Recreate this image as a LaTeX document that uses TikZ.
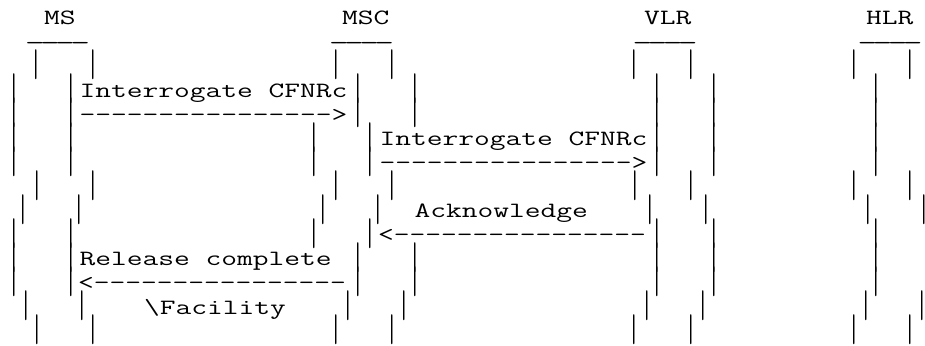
\documentclass[tikz,border=0pt]{standalone}
\usepackage{graphicx}
\newcommand\dd{-\kern0pt}
\newcommand\uu{\_\kern-2.6pt}
\newcommand\pbar{\resizebox*{11.45pt}{30pt}{|}}
\tikzset{
  asc/.style={font=\ttfamily\fontsize{21.8}{24}\selectfont, inner sep=0pt, outer sep=0pt, anchor=base west, xscale=1.404},
  uline/.style={font=\ttfamily\fontsize{21.8}{24}\selectfont, inner sep=0pt, outer sep=0pt, anchor=base, xscale=1.75},
  barglyph/.style={font=\ttfamily\fontsize{21.8}{24}\selectfont, inner sep=0pt, outer sep=0pt, anchor=center},
}
\begin{document}
\begin{tikzpicture}[x=1pt,y=-1pt]
\fill[white] (0,0) rectangle (925,345);
\useasboundingbox (0,0) rectangle (925,345);
% lifeline pipes, one row per text line
\foreach \L/\xs in {
  2/{36,93,336,392,634,691,854,910},
  3/{14,71,358,415,657,714,876},
  4/{14,71,358,415,657,714,876},
  5/{14,71,314,370,657,714,876},
  6/{14,71,314,370,657,714,876},
  7/{37,93,336,392,635,691,854,910},
  8/{23,79,323,378,650,706,868,924},
  9/{14,71,314,370,657,714,876},
  10/{14,71,358,415,657,714,876},
  11/{14,71,358,415,657,714,876},
  12/{26,82,348,404,647,703,866,922},
  13/{37,93,336,392,634,691,854,910}}{
  \foreach \xx in \xs {
    \node[barglyph] (p\L-\xx) at (\xx,{65+24.1*(\L-2)}) {\pbar};
  }
}
% headers
\node[asc] (ms)  at (44,24.8) {MS};
\node[asc] (msc) at (342,24.8) {MSC};
\node[asc] (vlr) at (644,24.8) {VLR};
\node[asc] (hlr) at (866,24.8) {HLR};
\node[uline] (ums)  at (57.5,39.7) {\uu\uu\uu\_};
\node[uline] (umsc) at (361.5,39.7) {\uu\uu\uu\_};
\node[uline] (uvlr) at (665,39.7) {\uu\uu\uu\_};
\node[uline] (uhlr) at (890,39.7) {\uu\uu\uu\_};
% messages
\node[asc] (m1)  at (79.5,97.1) {Interrogate CFNRc};
\node[asc] (a1)  at (79.5,121.2) {\dd\dd\dd\dd\dd\dd\dd\dd\dd\dd\dd\dd\dd\dd\dd\dd>};
\node[asc] (m2)  at (379.5,145.3) {Interrogate CFNRc};
\node[asc] (a2)  at (379.5,169.4) {\dd\dd\dd\dd\dd\dd\dd\dd\dd\dd\dd\dd\dd\dd\dd\dd>};
\node[asc] (m3)  at (414.5,217.6) {Acknowledge};
\node[asc] (a3)  at (378,241.7) {<\dd\dd\dd\dd\dd\dd\dd\dd\dd\dd\dd\dd\dd\dd\dd\dd};
\node[asc] (m4)  at (79.5,265.8) {Release complete};
\node[asc] (a4)  at (78,289.9) {<\dd\dd\dd\dd\dd\dd\dd\dd\dd\dd\dd\dd\dd\dd\dd\dd};
\node[asc] (m5)  at (144,314) {\textbackslash Facility};
\end{tikzpicture}
\end{document}
